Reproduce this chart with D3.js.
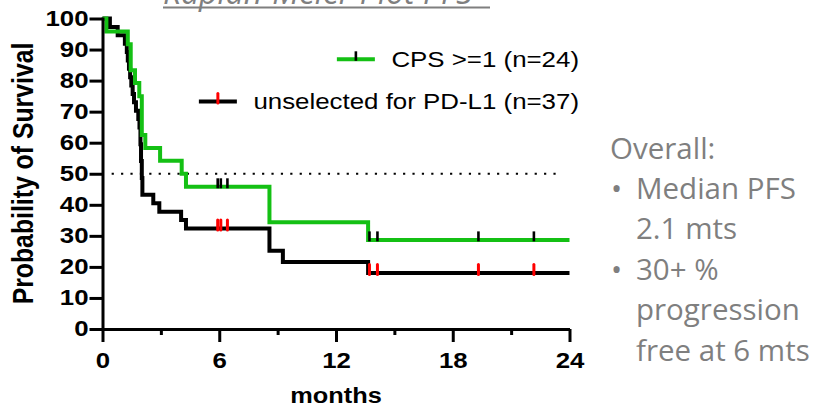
<!DOCTYPE html>
<html>
<head>
<meta charset="utf-8">
<script src="https://cdn.jsdelivr.net/npm/d3@7"></script>
<style>
  html, body { margin: 0; padding: 0; background: #fff; }
  svg { display: block; }
</style>
</head>
<body>
<div id="chart"></div>
<script>
// Kaplan-Meier steps (months, % surviving)
const cpsTimes = [0, 0.2, 1.3, 1.45, 1.67, 1.89, 2.02, 2.2, 2.96, 4.07, 4.29, 8.58, 13.65, 24];
const cpsSurv = [100, 95.8, 91.7, 83.3, 79.2, 75.0, 62.5, 58.3, 54.2, 50.0, 45.8, 34.4, 28.7, 28.7];
const cpsCensored = [5.92, 6.08, 6.42, 13.72, 14.13, 19.32, 22.17];

const unselTimes = [0, 0.38, 0.78, 1.15, 1.25, 1.3, 1.36, 1.42, 1.48, 1.55, 1.62, 1.72, 1.84, 1.9, 1.95, 1.98, 2.02, 2.05, 2.61, 2.92, 4.04, 4.29, 8.58, 9.27, 13.65, 24];
const unselSurv = [100, 97.3, 94.6, 91.9, 89.2, 86.5, 83.8, 81.1, 78.4, 75.7, 73.0, 70.3, 67.6, 64.9, 59.5, 54.1, 48.6, 43.2, 40.5, 37.8, 35.1, 32.4, 25.2, 21.6, 18.0, 18.0];
const unselCensored = [5.92, 6.08, 6.42, 13.72, 14.13, 19.32, 22.17];

const seriesNames = ["CPS >=1 (n=24)", "unselected for PD-L1 (n=37)"];
const xTicks = [0, 6, 12, 18, 24];
const xMinorTicks = [3, 9, 15, 21];
const yTicks = [0, 10, 20, 30, 40, 50, 60, 70, 80, 90, 100];
const medianLine = 50;
const titleText = "Kaplan-Meier Plot PFS";
const noteLines = [
  { bullet: false, text: "Overall:" },
  { bullet: true, text: "Median PFS" },
  { bullet: false, text: "2.1 mts" },
  { bullet: true, text: "30+ %" },
  { bullet: false, text: "progression" },
  { bullet: false, text: "free at 6 mts" }
];

const W = 816, H = 408;
const green = "#14c014", red = "#ff0000";
const chartFont = "'Liberation Sans', Arial, sans-serif";
const noteFont = "'Open Sans', 'Noto Sans', sans-serif";
const sx = 1.2; // chart picture is a bit wider than tall

let svg = d3.select("#chart").append("svg")
    .attr("width", W)
    .attr("height", H);

let xScale = d3.scaleLinear().domain([0, 24]).range([102.5, 569.5]);
let yScale = d3.scaleLinear().domain([0, 100]).range([329, 18.5]);

// Title (cut off at the top of the slide, as in the source)
svg.append("text")
    .attr("x", 163)
    .attr("y", 3.5)
    .attr("font-family", noteFont)
    .attr("font-style", "italic")
    .attr("font-size", "32px")
    .attr("fill", "#7f7f7f")
    .text(titleText);
svg.append("line")
    .attr("x1", 163).attr("x2", 490)
    .attr("y1", 7.5).attr("y2", 7.5)
    .attr("stroke", "#7f7f7f")
    .attr("stroke-width", 2);

// Median reference line
svg.append("line")
    .attr("x1", xScale(0.47)).attr("x2", xScale(23.6))
    .attr("y1", yScale(medianLine)).attr("y2", yScale(medianLine))
    .attr("stroke", "#000")
    .attr("stroke-width", 2.2)
    .attr("stroke-dasharray", "2.2,7.2");

// Curves
function toPoints(times, surv) {
    return times.map((t, i) => ({ x: t, y: surv[i] }));
}
let stepLine = d3.line()
    .x(d => xScale(d.x))
    .y(d => yScale(d.y))
    .curve(d3.curveStepAfter);

svg.append("path")
    .datum(toPoints(unselTimes, unselSurv))
    .attr("d", stepLine)
    .attr("fill", "none")
    .attr("stroke", "#000")
    .attr("stroke-width", 4);

svg.append("path")
    .datum(toPoints(cpsTimes, cpsSurv))
    .attr("d", stepLine)
    .attr("fill", "none")
    .attr("stroke", green)
    .attr("stroke-width", 4);

// Censor ticks
function survAt(times, surv, t) {
    let v = surv[0];
    for (let i = 0; i < times.length; i++) {
        if (times[i] <= t) v = surv[i];
    }
    return v;
}
function drawCensors(censored, times, surv, color, cap, width) {
    svg.append("g")
        .selectAll("line")
        .data(censored)
        .enter()
        .append("line")
        .attr("x1", d => xScale(d)).attr("x2", d => xScale(d))
        .attr("y1", d => yScale(survAt(times, surv, d)) - 8.5)
        .attr("y2", d => yScale(survAt(times, surv, d)) + 1.5)
        .attr("stroke", color)
        .attr("stroke-width", width)
        .attr("stroke-linecap", cap);
}
drawCensors(unselCensored, unselTimes, unselSurv, red, "round", 3);
drawCensors(cpsCensored, cpsTimes, cpsSurv, "#000", "butt", 2.6);

// Axes
let yAxis = svg.append("g")
    .attr("transform", "translate(" + xScale(0) + ",0)")
    .call(d3.axisLeft(yScale).tickValues(yTicks).tickSize(13).tickSizeOuter(0));
yAxis.selectAll("text")
    .attr("x", -14 / sx)
    .attr("transform", `scale(${sx},1)`);

let xAxis = svg.append("g")
    .attr("transform", "translate(0," + yScale(0) + ")")
    .call(d3.axisBottom(xScale).tickValues(xTicks).tickSize(13).tickSizeOuter(0));
xAxis.selectAll("text")
    .attr("y", 39.5)
    .attr("dy", 0)
    .attr("transform", `scale(${sx},1)`);

let xMinor = svg.append("g")
    .attr("transform", "translate(0," + yScale(0) + ")")
    .call(d3.axisBottom(xScale).tickValues(xMinorTicks).tickSize(6).tickFormat(""));
xMinor.select(".domain").remove();

svg.selectAll(".domain, .tick line")
    .attr("stroke", "#000")
    .attr("stroke-width", 3);
svg.selectAll(".tick text")
    .attr("font-family", chartFont)
    .attr("font-weight", "bold")
    .attr("font-size", "21.5px")
    .attr("fill", "#000");
yAxis.select(".domain").attr("stroke-linecap", "square");

// Axis titles
svg.append("text")
    .attr("transform", `translate(336,403) scale(1.18,1)`)
    .attr("text-anchor", "middle")
    .attr("font-family", chartFont)
    .attr("font-weight", "bold")
    .attr("font-size", "21.5px")
    .text("months");

svg.append("text")
    .attr("transform", `translate(33,173.5) scale(1.18,1) rotate(-90)`)
    .attr("text-anchor", "middle")
    .attr("font-family", chartFont)
    .attr("font-weight", "bold")
    .attr("font-size", "24.8px")
    .text("Probability of Survival");

// Legend
let legendStyle = [
    { line: green, mark: "#000", cap: "butt", baseline: 66.7 },
    { line: "#000", mark: red, cap: "round", baseline: 109 }
];
seriesNames.forEach((name, i) => {
    let s = legendStyle[i];
    let label = svg.append("text")
        .attr("transform", `translate(579,${s.baseline}) scale(1.15,1)`)
        .attr("text-anchor", "end")
        .attr("font-family", chartFont)
        .attr("font-size", "22.5px")
        .attr("fill", "#000")
        .text(name);
    let start = 579 - label.node().getComputedTextLength() * 1.15;
    let x2 = start - 16.5, x1 = x2 - 38, ly = s.baseline - 7.4;
    svg.append("line")
        .attr("x1", x1).attr("x2", x2)
        .attr("y1", ly).attr("y2", ly)
        .attr("stroke", s.line)
        .attr("stroke-width", 4);
    svg.append("line")
        .attr("x1", (x1 + x2) / 2).attr("x2", (x1 + x2) / 2)
        .attr("y1", ly - 8).attr("y2", ly + 1.5)
        .attr("stroke", s.mark)
        .attr("stroke-width", i == 0 ? 2.6 : 3)
        .attr("stroke-linecap", s.cap);
});

// Slide notes on the right
let notes = svg.append("g")
    .attr("font-family", noteFont)
    .attr("font-size", "29.5px")
    .attr("fill", "#7f7f7f");
noteLines.forEach((d, i) => {
    let y = 158.5 + i * 40.4;
    let indent = i == 0 ? 610 : 636;
    notes.append("text")
        .attr("x", indent)
        .attr("y", y)
        .text(d.text);
    if (d.bullet) {
        notes.append("text")
            .attr("x", 611)
            .attr("y", y)
            .text("\u2022");
    }
});
</script>
</body>
</html>
